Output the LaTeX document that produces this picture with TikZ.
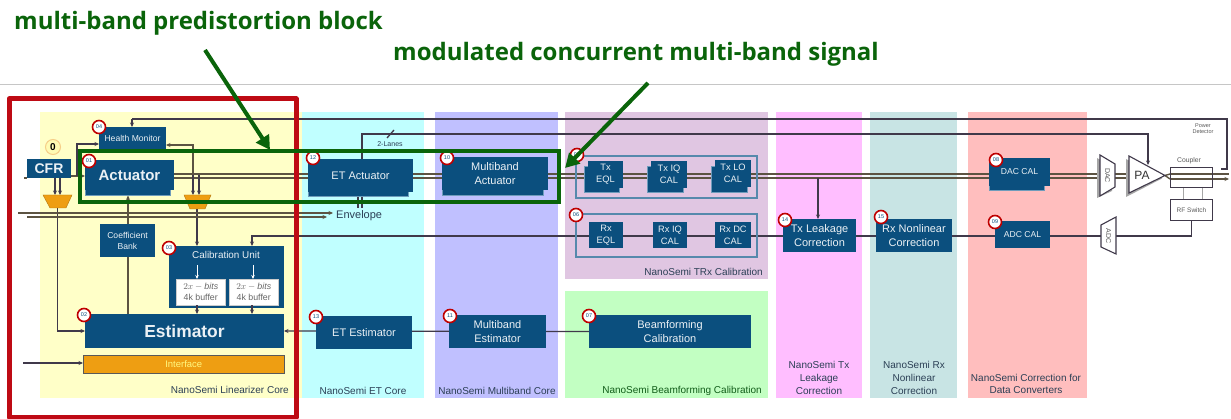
\documentclass[tikz,border=0pt]{standalone}
\usepackage{fontspec}
\setmainfont{Liberation Sans}
\newfontfamily\titlefont{Open Sans}
\usetikzlibrary{arrows.meta,calc,backgrounds}
\pgfdeclarelayer{bg}\pgfdeclarelayer{lines}
\pgfsetlayers{bg,lines,main}
\definecolor{blk}{HTML}{0B4F7E}
\definecolor{blkline}{HTML}{6F9CBB}
\definecolor{ink}{HTML}{40394A}
\definecolor{bus}{HTML}{5C5342}
\definecolor{dgreen}{HTML}{0A640A}
\definecolor{frred}{HTML}{BE0A14}
\definecolor{orng}{HTML}{EE9E12}
\definecolor{txtb}{HTML}{2B3F55}
\definecolor{rgy}{HTML}{FFFFC8}
\definecolor{rgc}{HTML}{C0FFFF}
\definecolor{rgp}{HTML}{C0C0FF}
\definecolor{rgt}{HTML}{E0C6E2}
\definecolor{rgg}{HTML}{C2FFC2}
\definecolor{rgk}{HTML}{FFBEFF}
\definecolor{rgs}{HTML}{C8E4E4}
\definecolor{rgr}{HTML}{FFBEBE}
\newcommand\fs[1]{\pgfmathsetmacro\fsb{#1*1.27}\fontsize{#1}{\fsb}\selectfont}
\newcommand\boxt[6][blk]{\node[#1,anchor=north west,minimum width={(#5-#3)*1pt},minimum height={(#6-#4)*1pt},align=center] (#2) at (#3,#4)}
\newcommand\stk[4]{\fill[blk,draw=blkline,line width=.3pt] (#1,#2) rectangle (#3,#4);}
\tikzset{
 blk/.style={fill=blk,text=white!92!blk,inner sep=0pt,outer sep=0pt,font=\fs{11}},
 big/.style={blk,font=\fs{17.4}\bfseries},
 small/.style={blk,font=\fs{8.6}},
 tiny/.style={blk,font=\fs{9.3}},
 lbl/.style={text=txtb,font=\fs{10},align=center,inner sep=0pt},
 sig/.style={draw=ink,line width=1.3pt},
 bussig/.style={draw=bus,line width=1.4pt},
 sigar/.style={sig,-{Stealth[length=4.5pt,width=4pt]}},
 busar/.style={bussig,-{Stealth[length=4.5pt,width=4pt]}},
 badge/.style={circle,draw=red!75!black,fill=white,line width=1.6pt,minimum size=13pt,inner sep=0pt,font=\fs{5.5},text=blk},
 frm/.style={draw=blkline!75!blk,line width=1.1pt},
 tran/.style={draw=ink,line width=1.1pt,fill=white},
 mux/.style={fill=orng,draw=orng!75!black,line width=.4pt},
 bufr/.style={anchor=north west,fill=white,draw=gray!40,line width=.5pt,minimum width=49pt,minimum height=26pt,inner sep=0pt,align=center,font=\fs{8.8},text=gray!80!black},
 callout/.style={draw=dgreen,line width=4pt,-{Triangle[length=14pt,width=15pt]}},
 frame/.style={draw=dgreen,line width=3.6pt},
 title/.style={text=dgreen,font=\titlefont\fs{24}\bfseries,inner sep=0pt,anchor=west},
}
\begin{document}
\begin{tikzpicture}[x=1pt,y=-1pt]
\useasboundingbox (0,0) rectangle (1231,419);
\begin{pgfonlayer}{bg}
\fill[white] (0,0) rectangle (1231,419);
\draw[gray!45,line width=.7pt] (0,84) -- (1231,84);
\fill[rgy] (40,112) rectangle (302,398);
\fill[rgc] (302,112) rectangle (424,398);
\fill[rgp] (435,112) rectangle (558,398);
\fill[rgt] (565,112) rectangle (768,279);
\fill[rgg] (565,291) rectangle (768,398);
\fill[rgk] (776,112) rectangle (862,398);
\fill[rgs] (870,112) rectangle (957,398);
\fill[rgr] (968,112) rectangle (1087,398);
\end{pgfonlayer}

% stacked shadows
\stk{85}{166}{170}{195}
\stk{308}{165}{408}{196}
\stk{442}{165}{543}{195}
\stk{584}{166}{619}{192}
\stk{647}{166}{683}{192}
\stk{711}{166}{747}{192}
\stk{989}{165}{1044}{190}

% blocks
\boxt[big,font=\fs{14}\bfseries]{cfr}{27}{159}{71}{178} {CFR};
\boxt[small]{hm}{99}{127}{166}{149} {Health Monitor};
\boxt[big,font=\fs{15}\bfseries]{act}{85}{160}{174}{190} {Actuator};
\boxt[small]{coef}{100}{224}{155}{257} {Coefficient\\Bank};
\boxt{cal}{169}{246}{284}{308} {};
\node[blk,fill=none,font=\fs{9.9}] at (226,255) {Calibration Unit};
\boxt[big]{est}{85}{314}{284}{348} {Estimator};
\node[anchor=north west,fill=orng,draw=gray!70!black,line width=.5pt,minimum width=201pt,minimum height=18pt,inner sep=0pt,font=\fs{9.5},text=yellow!50] (if) at (83,355) {Interface};
\node[bufr] (b1) at (176,279) {$2x-\mathit{bits}$\\4k buffer};
\node[bufr] (b2) at (229,279) {$2x-\mathit{bits}$\\4k buffer};

\boxt{etact}{308}{159}{413}{192} {ET Actuator};
\boxt{mbact}{442}{157}{548}{190} {Multiband\\Actuator};
\boxt{etest}{316}{316}{412}{349} {ET Estimator};
\boxt{mbest}{449}{315}{546}{348} {Multiband\\Estimator};
\boxt{bf}{589}{315}{751}{348} {Beamforming\\Calibration};

\draw[frm] (576,156) rectangle (757,198);
\draw[frm] (576,214) rectangle (757,257);
\boxt[tiny]{txeq}{588}{161}{623}{188} {Tx\\EQL};
\boxt[tiny]{txiq}{651}{161}{687}{188} {Tx IQ\\CAL};
\boxt[tiny]{txlo}{715}{160}{751}{187} {Tx LO\\CAL};
\boxt[tiny]{rxeq}{589}{222}{623}{248} {Rx\\EQL};
\boxt[tiny]{rxiq}{653}{222}{687}{248} {Rx IQ\\CAL};
\boxt[tiny]{rxdc}{715}{222}{751}{248} {Rx DC\\CAL};
\boxt{txl}{783}{219}{856}{252} {Tx Leakage\\Correction};
\boxt{rxn}{876}{219}{952}{252} {Rx Nonlinear\\Correction};
\boxt[tiny,font=\fs{8.6}]{dac}{989}{158}{1050}{186} {DAC CAL};
\boxt[tiny,font=\fs{8.6}]{adc}{995}{221}{1050}{248} {ADC CAL};

% RF chain
\fill[gray!70] (1097,158) -- (1112,167) -- (1112,191) -- (1097,198) -- cycle;
\draw[tran] (1100,155) -- (1115,164) -- (1115,187) -- (1100,196) -- cycle;
\node[rotate=-90,font=\fs{7},text=gray!70!black,inner sep=0pt] (dacc) at (1107.5,175.5) {DAC};
\fill[gray!70] (1126,159) -- (1162,178.5) -- (1126,197) -- cycle;
\draw[tran] (1129,156) -- (1165,175.5) -- (1129,193) -- cycle;
\node[font=\fs{12},text=gray!40!black,inner sep=0pt] (pac) at (1142,175) {PA};
\coordinate (pain) at (1129,175);\coordinate (patip) at (1165,175.5);\coordinate (patop) at (1148,165);
\draw[tran] (1101,225) -- (1116,217) -- (1116,254) -- (1101,247) -- cycle;
\node[rotate=-90,font=\fs{7},text=gray!70!black,inner sep=0pt] (adcc) at (1108.5,236) {ADC};
\node[draw=ink,line width=1.1pt,anchor=north west,minimum width=42pt,minimum height=20pt,inner sep=0pt] (cpl) at (1170,167) {};
\node[draw=ink,line width=1pt,fill=white,anchor=north west,minimum width=42pt,minimum height=21pt,inner sep=0pt,font=\fs{6.5},text=gray!70!black] (rfs) at (1170,199) {RF Switch};
\node[font=\fs{6.8},text=gray!70!black,inner sep=0pt] at (1189,161) {Coupler};
\node[font=\fs{5.5},text=gray!70!black,align=center,inner sep=0pt] at (1203,128.5) {Power\\[-1pt]Detector};
\coordinate (pdout) at (1221,169);
\coordinate (out) at (1229,177);

% muxes
\path[mux] (43,195) -- (72,195) -- (66,208) -- (50,208) -- cycle;
\path[mux] (184,195) -- (211,195) -- (205,209) -- (190,209) -- cycle;
\coordinate (mxl) at (57.5,208);\coordinate (mxr) at (197,209);

% connectors
\begin{pgfonlayer}{lines}
\draw[sig] (pdout) -- (1227,169) -- (1227,119) -- (132,119);
\draw[sigar] (132,119) -- (hm.north -| 132,0);
\draw[sigar] (etact.north -| 362,0) -- (362,134) -- (1148,134) -- (patop);
\draw[sig] (387,138) -- (394,130);
% signal chain
\draw[bussig] (24,178) -- (cfr.west |- 0,178);
\draw[busar] (cfr.east |- 0,176) -- (act.west |- 0,176);
\draw[bussig] (act.east |- 0,174) -- (pain |- 0,174);
\draw[bussig] (act.east |- 0,178) -- (pain |- 0,178);
\draw[bussig] (patip) -- (cpl.west |- 0,174);
\draw[bussig] (patip) -- (cpl.west |- 0,179);
\draw[bussig] (cpl.west |- 0,174) -- (out |- 0,174);
\draw[busar] (cpl.west |- 0,179) -- (out |- 0,179);
% health monitor
\draw[sigar] (77,176) -- (77,144) -- (hm.west |- 0,144);
\draw[busar] (193,175) -- (193,145) -- (hm.east |- 0,145);
\draw[sigar] (193,175) -- (193,195);
\draw[sigar] (199,175) -- (199,195);
\draw[sigar] (55,178) -- (55,195);
\draw[sigar] (60,178) -- (60,195);
% feedback
\draw[sigar] (mxl) -- (57.5,331) -- (est.west |- 0,331);
\draw[sigar] (mxr) -- (cal.north -| mxr);
\draw[busar] (est.north -| 128,0) -- (128,195.5);
% envelope bus
\draw[busar] (18,213) -- (333,213);
\draw[busar] (27,217) -- (327,217);
\draw[sig] (358,196) -- (358,208);
\draw[sigar] (362,208) -- (362,192);
% rx chain
\draw[sigar] (rfs.south) -- (rfs.south |- 0,236) -- (252,236) -- (cal.north -| 252,0);
% estimator chain
\draw[sigar] (bf.west) -- (est.east);
\draw[sigar] (818,178) -- (txl.north -| 818,0);
\draw[sigar] (23,363) -- (if.west |- 0,363);
\draw[gray!70,line width=1pt] (1183,187) -- (1183,199);
\draw[gray!70,line width=1pt] (1202,187) -- (1202,199);
\end{pgfonlayer}
\draw[-{Stealth[length=4pt,width=3.5pt]},white,line width=.7pt] (197,265) -- (b1.north -| 197,0);
\draw[-{Stealth[length=4pt,width=3.5pt]},white,line width=.7pt] (253,265) -- (b2.north -| 253,0);
\draw[sigar] (b1.south -| 197,0) -- (est.north -| 197,0);
\draw[sigar] (b2.south -| 252,0) -- (est.north -| 252,0);

% labels
\node[lbl,anchor=east] at (289,390) {NanoSemi Linearizer Core};
\node[lbl] at (363,391) {NanoSemi ET Core};
\node[lbl] at (497,391) {NanoSemi Multiband Core};
\node[lbl,anchor=east] at (763,272) {NanoSemi TRx Calibration};
\node[lbl,anchor=east,text=dgreen!80!txtb] at (762,391) {NanoSemi Beamforming Calibration};
\node[lbl] at (819,378) {NanoSemi Tx\\Leakage\\Correction};
\node[lbl] at (914,378) {NanoSemi Rx\\Nonlinear\\Correction};
\node[lbl] at (1026,384) {NanoSemi Correction for\\Data Converters};
\node[font=\fs{7},text=txtb,inner sep=0pt] at (390,144) {2-Lanes};
\node[font=\fs{11},text=txtb,inner sep=0pt,anchor=west] (envl) at (336,216) {Envelope};

% badges
\node[circle,draw=orng!50,fill=white!70!yellow,line width=1pt,minimum size=15pt,inner sep=0pt,font=\fs{10}\bfseries,text=black] (b0) at (53,147) {0};
\node[badge] (bd04) at (99,127) {04};
\node[badge] (bd01) at (89,161) {01};
\node[badge] (bd02) at (84,315) {02};
\node[badge] (bd03) at (169,248) {03};
\node[badge] (bd12) at (313,158) {12};
\node[badge] (bd10) at (447,158) {10};
\node[badge] (bd13) at (316,317) {13};
\node[badge] (bd11) at (450,316) {11};
\node[badge] (bd05) at (577,155) {05};
\node[badge] (bd06) at (576,215) {06};
\node[badge] (bd07) at (589,316) {07};
\node[badge] (bd14) at (785,220) {14};
\node[badge] (bd15) at (881,217) {15};
\node[badge] (bd08) at (996,160) {08};
\node[badge] (bd09) at (995,222) {09};

% highlight
\draw[draw=frred,line width=5pt,line join=round] (9,99) rectangle (296,417);
\draw[frame] (80,151) rectangle (559,202);
\coordinate (c1) at (205,50);\coordinate (c2) at (270,150);
\coordinate (c3) at (648,83);\coordinate (c4) at (565,168);
\draw[callout] (c1) -- (c2);
\draw[callout] (c3) -- (c4);
\node[title] (t1) at (14,23) {multi-band predistortion block};
\node[title] (t2) at (393,54) {modulated concurrent multi-band signal};
\end{tikzpicture}
\end{document}
